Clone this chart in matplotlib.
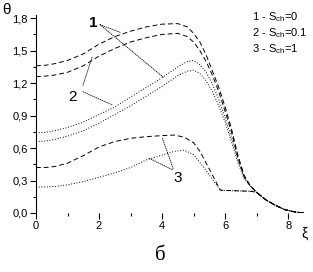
import numpy as np
import matplotlib

matplotlib.use("Agg")
import matplotlib.pyplot as plt
from matplotlib.ticker import FuncFormatter, MultipleLocator

plt.rcParams.update({"font.family": ["Liberation Sans", "DejaVu Sans"],
                     "font.size": 8, "mathtext.default": "regular"})

# shared cooling tail (all curves merge here)
tail_xi = [6.8, 7.0, 7.3, 7.6, 7.9, 8.2, 8.5]
tail_th = [0.25, 0.19, 0.12, 0.07, 0.03, 0.01, 0.0]

xi_a = [0, 0.3, 0.6, 1.0, 1.5, 2.0, 2.5, 3.0, 3.5, 4.0, 4.5, 4.8, 5.0, 5.2,
        5.4, 5.6, 5.8, 6.0, 6.2, 6.4, 6.6]
th_1u = [1.36, 1.365, 1.38, 1.41, 1.47, 1.56, 1.63, 1.68, 1.72, 1.745, 1.75,
         1.72, 1.66, 1.58, 1.46, 1.31, 1.16, 0.98, 0.78, 0.54, 0.35]
th_1l = [1.26, 1.265, 1.275, 1.30, 1.36, 1.45, 1.52, 1.58, 1.62, 1.65, 1.66,
         1.63, 1.58, 1.50, 1.40, 1.27, 1.12, 0.94, 0.75, 0.52, 0.34]
th_2u = [0.74, 0.745, 0.76, 0.79, 0.84, 0.91, 0.98, 1.07, 1.16, 1.25, 1.35,
         1.40, 1.41, 1.37, 1.30, 1.19, 1.05, 0.88, 0.70, 0.50, 0.33]
th_2l = [0.66, 0.665, 0.68, 0.71, 0.76, 0.83, 0.91, 0.99, 1.08, 1.17, 1.27,
         1.31, 1.32, 1.29, 1.22, 1.12, 0.99, 0.84, 0.66, 0.47, 0.32]

xi_3u = [0, 0.3, 0.6, 1.0, 1.5, 2.0, 2.5, 3.0, 3.5, 4.0, 4.4, 4.7, 5.0, 5.2,
         5.4, 5.6, 5.85, 6.85]
th_3u = [0.42, 0.42, 0.43, 0.46, 0.53, 0.61, 0.66, 0.69, 0.705, 0.715, 0.72,
         0.70, 0.65, 0.57, 0.46, 0.35, 0.21, 0.20]
xi_3l = [0, 0.3, 0.6, 1.0, 1.5, 2.0, 2.5, 3.0, 3.5, 4.0, 4.4, 4.7, 5.0, 5.3,
         5.5, 5.7, 5.85, 6.85]
th_3l = [0.24, 0.24, 0.245, 0.26, 0.29, 0.33, 0.37, 0.42, 0.49, 0.535, 0.57,
         0.58, 0.54, 0.43, 0.35, 0.27, 0.21, 0.20]

legend_lines = ["1 - S$_{ch}$=0", "2 - S$_{ch}$=0.1", "3 - S$_{ch}$=1"]

fig = plt.figure(figsize=(3.13, 2.72), dpi=100)
ax = fig.add_axes([0.115, 0.217, 0.866, 0.728])

dash = (0, (5, 3))
dot = (0, (1, 1.8))
lw = 0.7
ax.plot(xi_a + tail_xi, th_1u + tail_th, color="k", lw=lw, ls=dash)
ax.plot(xi_a + tail_xi, th_1l + tail_th, color="k", lw=lw, ls=dash)
ax.plot(xi_a + tail_xi, th_2u + tail_th, color="k", lw=lw, ls=dot)
ax.plot(xi_a + tail_xi, th_2l + tail_th, color="k", lw=lw, ls=dot)
ax.plot(xi_3u + tail_xi[1:], th_3u + tail_th[1:], color="k", lw=lw, ls=dash)
ax.plot(xi_3l + tail_xi[1:], th_3l + tail_th[1:], color="k", lw=lw, ls=dot)

# curve labels with leader lines
lead = dict(arrowstyle="-", lw=0.6, ls=(0, (1, 1.5)), color="k",
            shrinkA=0, shrinkB=0)
ax.text(1.81, 1.76, "1", fontsize=11, fontweight="bold", ha="center", va="center")
ax.annotate("", xy=(2.67, 1.67), xytext=(2.03, 1.74), arrowprops=lead)
ax.annotate("", xy=(4.06, 1.25), xytext=(2.03, 1.74), arrowprops=lead)
ax.text(1.17, 1.07, "2", fontsize=11, ha="center", va="center")
ax.annotate("", xy=(1.78, 1.44), xytext=(1.49, 1.18), arrowprops=lead)
ax.annotate("", xy=(2.41, 1.0), xytext=(1.49, 1.12), arrowprops=lead)
ax.text(4.51, 0.32, "3", fontsize=11, ha="center", va="center")
ax.annotate("", xy=(4.0, 0.70), xytext=(4.35, 0.41), arrowprops=lead)
ax.annotate("", xy=(3.56, 0.51), xytext=(4.32, 0.40), arrowprops=lead)

ax.set_xlim(0, 8.6)
ax.set_ylim(0, 1.83)
ax.xaxis.set_major_locator(MultipleLocator(2))
ax.xaxis.set_minor_locator(MultipleLocator(1))
ax.yaxis.set_major_locator(MultipleLocator(0.3))
ax.yaxis.set_minor_locator(MultipleLocator(0.15))
ax.yaxis.set_major_formatter(FuncFormatter(lambda v, _: f"{v:.1f}".replace(".", ",")))
ax.tick_params(which="major", length=4, width=0.8, direction="out", pad=2)
ax.tick_params(which="minor", length=2, width=0.8, direction="out")
for s in ["top", "right", "bottom"]:
    ax.spines[s].set_visible(False)
ax.spines["left"].set_linewidth(0.8)

for i, t in enumerate(legend_lines):
    fig.text(0.805, 0.937 - i * 0.059, t, fontsize=8, va="center")

fig.text(0.022, 0.963, "θ", fontsize=11, ha="center", va="center")
fig.text(0.974, 0.14, "ξ", fontsize=10, ha="center", va="center")
fig.text(0.511, 0.062, "б", fontsize=15, ha="center", va="center",
         family=["Liberation Serif", "DejaVu Serif"])

fig.savefig("out.png", dpi=100)
